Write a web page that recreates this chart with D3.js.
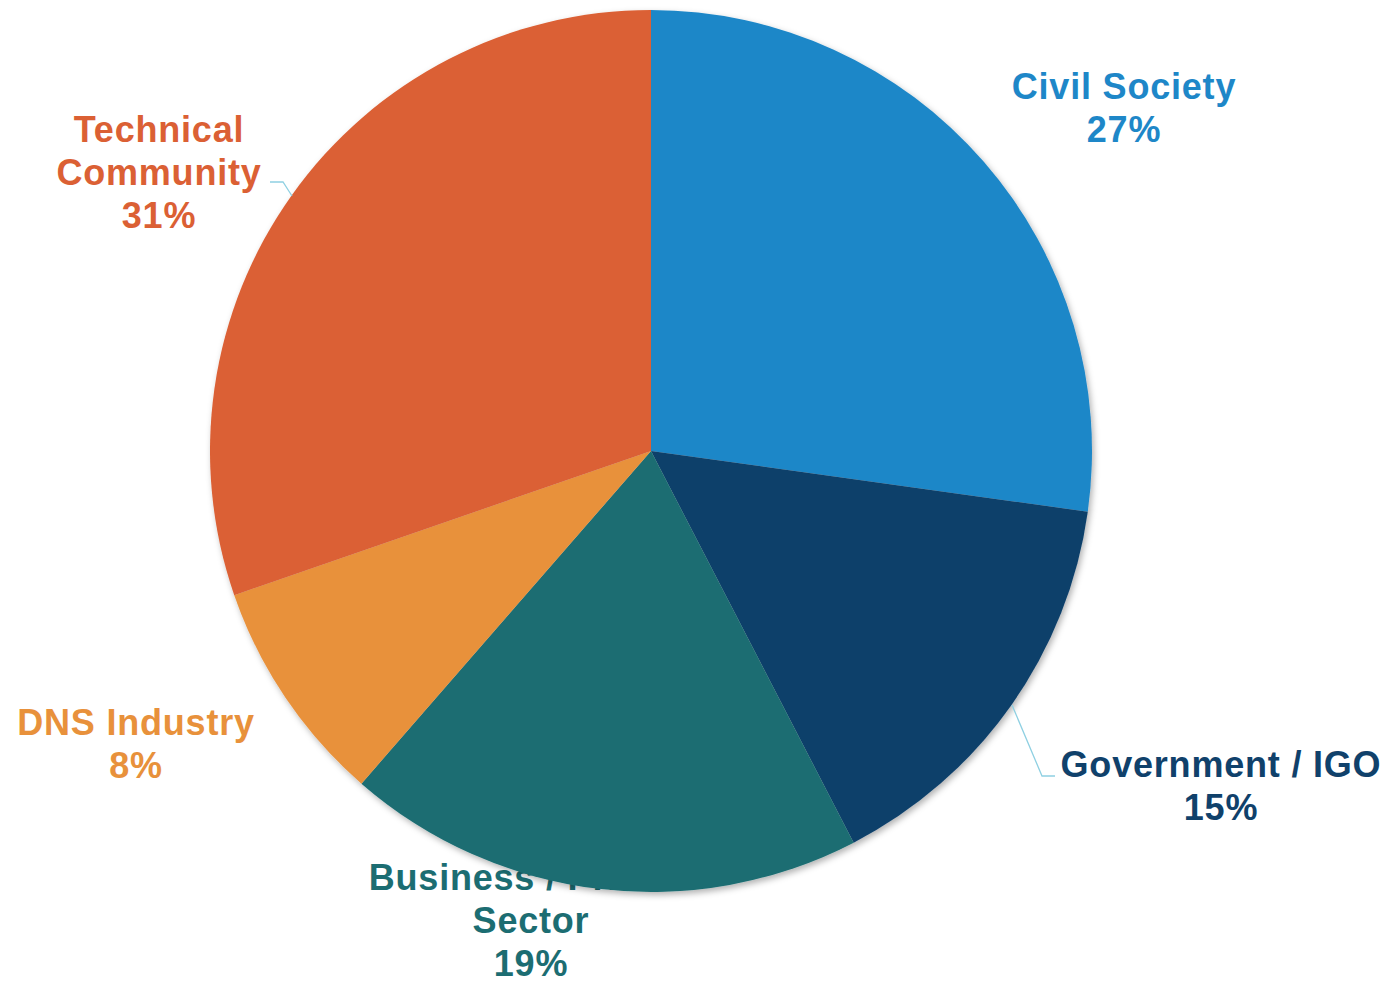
<!DOCTYPE html>
<html>
<head>
<meta charset="utf-8">
<script src="https://cdn.jsdelivr.net/npm/d3@7"></script>
<style>
  html, body { margin: 0; padding: 0; background: #ffffff; }
  #chart text { font-family: "Liberation Sans", Arial, sans-serif; font-weight: bold; }
</style>
</head>
<body>
<div id="chart"></div>
<script>
// stakeholder groups, clockwise from 12 o'clock
const categories = ["Civil Society", "Government / IGO", "Business / Private Sector", "DNS Industry", "Technical Community"];
// share of respondents (%)
const values = [27.2, 15.2, 19.0, 8.3, 30.3];
// the percentages printed on the labels
const pctLabels = ["27%", "15%", "19%", "8%", "31%"];
const colors = ["#1e87c8", "#10416b", "#1c6d72", "#e8913b", "#db6034"];

// label text lines and where each label block sits (center x, first baseline)
const labelLines = [
  ["Civil Society"],
  ["Government / IGO"],
  ["Business / Private", "Sector"],
  ["DNS Industry"],
  ["Technical", "Community"]
];
const labelPos = [[1124, 99], [1221, 777], [531, 890], [136, 735], [159, 142]];

const width = 1395, height = 985;
const cx = 651, cy = 451, radius = 441;
const lineH = 43;

const svg = d3.select("#chart")
  .append("svg")
  .attr("width", width)
  .attr("height", height);

// soft shadow under the pie
const defs = svg.append("defs");
const f = defs.append("filter").attr("id", "shadow")
  .attr("x", "-10%").attr("y", "-10%").attr("width", "120%").attr("height", "120%");
f.append("feDropShadow")
  .attr("dx", 2).attr("dy", 3).attr("stdDeviation", 3)
  .attr("flood-color", "#000").attr("flood-opacity", 0.3);

const data = categories.map((c, i) => ({ name: c, value: values[i], pct: pctLabels[i], color: colors[i] }));

// labels first, the pie covers part of the Business label like in the original
const labels = svg.append("g").attr("class", "labels");
data.forEach((d, i) => {
  const t = labels.append("text")
    .attr("text-anchor", "middle")
    .attr("fill", d.color)
    .attr("font-size", 36)
    .attr("letter-spacing", 0.8);
  const lines = labelLines[i].concat([d.pct]);
  lines.forEach((ln, j) => {
    t.append("tspan")
      .attr("x", labelPos[i][0])
      .attr("y", labelPos[i][1] + j * lineH)
      .text(ln);
  });
});

const pie = d3.pie().sort(null).value(d => d.value);
const arc = d3.arc().innerRadius(0).outerRadius(radius);

const g = svg.append("g")
  .attr("transform", `translate(${cx},${cy})`)
  .attr("filter", "url(#shadow)");

g.selectAll("path")
  .data(pie(data))
  .enter().append("path")
  .attr("d", arc)
  .attr("fill", d => d.data.color);

// leader lines for Government and Technical Community
const leader = d3.line();
svg.append("path")
  .attr("d", leader([[1012, 705], [1042, 776], [1055, 776]]))
  .attr("fill", "none").attr("stroke", "#8fd0e2").attr("stroke-width", 1.3);
svg.append("path")
  .attr("d", leader([[292, 196], [283, 182], [270, 182]]))
  .attr("fill", "none").attr("stroke", "#8fd0e2").attr("stroke-width", 1.3);
</script>
</body>
</html>
